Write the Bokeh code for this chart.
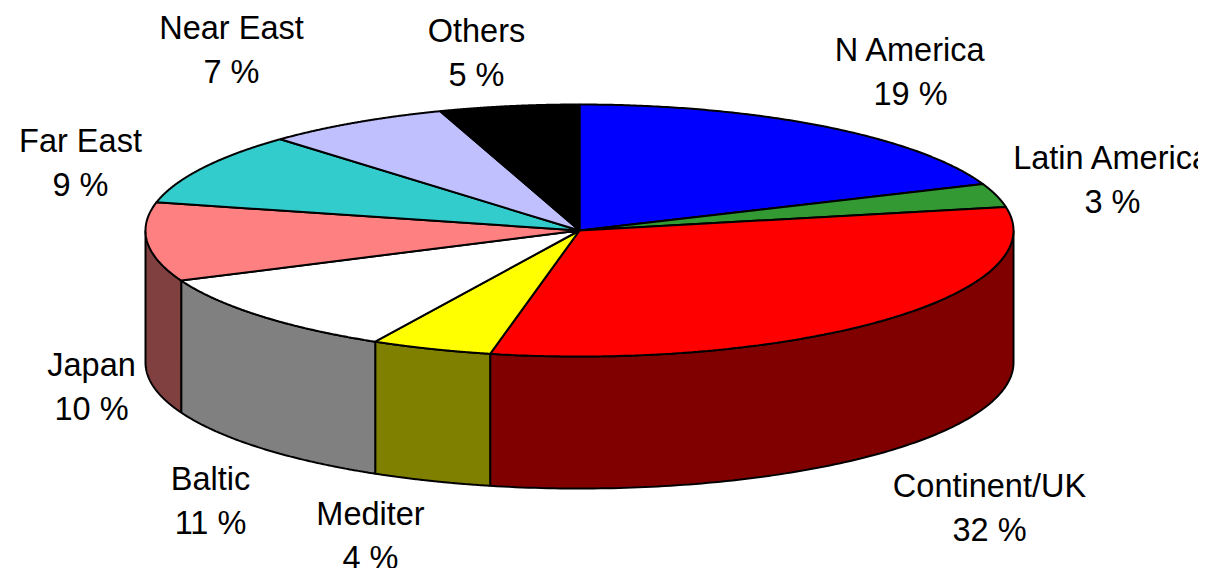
import numpy as np
from bokeh.plotting import figure
from bokeh.models import Range1d
from bokeh.core.properties import value
from bokeh.embed import file_html
from bokeh.resources import INLINE

# data
categories = ["N America", "Latin America", "Continent/UK", "Mediter", "Baltic",
              "Japan", "Far East", "Near East", "Others"]
shares = [19.0, 3.0, 31.3, 4.5, 10.7, 10.1, 9.3, 6.9, 5.2]
pct_labels = ["19 %", "3 %", "32 %", "4 %", "11 %", "10 %", "9 %", "7 %", "5 %"]

# styles
top_colors = ["#0000ff", "#339933", "#ff0000", "#ffff00", "#ffffff",
              "#ff8080", "#33cccc", "#c0c0ff", "#000000"]
side_colors = ["#000080", "#194d19", "#800000", "#808000", "#808080",
               "#804040", "#1a6666", "#606080", "#000000"]

# layout (page pixels)
W, H = 1198, 568
CX, CY, RX, RY, DEPTH = 579, 230, 434, 126, 132
label_x = [910, 1112, 989, 370, 210, 91, 80, 231, 476]
label_y1 = [49, 157, 485, 513, 478, 364, 140, 27, 30]
LINE_GAP = 44.5

p = figure(width=W, height=H, output_backend="svg", toolbar_location=None,
           x_range=Range1d(0, W), y_range=Range1d(H, 0),
           min_border=0, outline_line_color=None, background_fill_color="white")
p.axis.visible = False
p.grid.visible = False


def ex(t):
    return CX + RX * np.sin(t)


def ey(t):
    return CY - RY * np.cos(t)


cum = np.concatenate([[0], np.cumsum(shares)]) / sum(shares) * 2 * np.pi

side_xs, side_ys, side_fc = [], [], []
top_xs, top_ys, top_fc = [], [], []
for i in range(len(shares)):
    a, b = cum[i], cum[i + 1]
    # front side wall: visible only between 90 and 270 degrees
    lo, hi = max(a, np.pi / 2), min(b, 3 * np.pi / 2)
    if hi > lo:
        t = np.linspace(lo, hi, 120)
        side_xs.append(np.concatenate([ex(t), ex(t)[::-1]]).tolist())
        side_ys.append(np.concatenate([ey(t), (ey(t) + DEPTH)[::-1]]).tolist())
        side_fc.append(side_colors[i])
    t = np.linspace(a, b, 160)
    top_xs.append([CX] + ex(t).tolist())
    top_ys.append([CY] + ey(t).tolist())
    top_fc.append(top_colors[i])

p.patches(side_xs, side_ys, fill_color=side_fc, line_color="black", line_width=2)
p.patches(top_xs, top_ys, fill_color=top_fc, line_color="black", line_width=2)

font = value("Liberation Sans")
p.text(label_x, label_y1, text=categories, text_font=font, text_font_size="32.5px",
       text_align="center", text_baseline="middle", text_color="#000000")
p.text(label_x, [y + LINE_GAP for y in label_y1], text=pct_labels, text_font=font,
       text_font_size="32.5px", text_align="center", text_baseline="middle",
       text_color="#000000")

open("out.html", "w").write(file_html(p, INLINE))
